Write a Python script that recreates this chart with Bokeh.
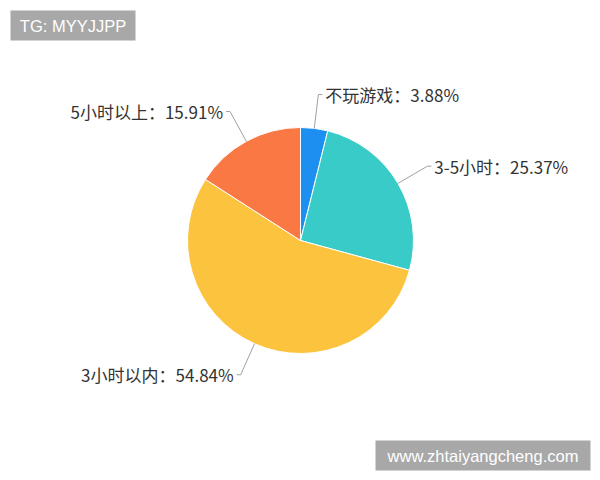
import math
from bokeh.plotting import figure
from bokeh.models import Range1d, ColumnDataSource
from bokeh.core.properties import value
from bokeh.embed import file_html
from bokeh.resources import INLINE

categories = ["不玩游戏", "3-5小时", "3小时以内", "5小时以上"]
percents = [3.88, 25.37, 54.84, 15.91]
colors = ["#1c8ff0", "#38cbc8", "#fcc33e", "#f97844"]

watermark_top = "TG: MYYJJPP"
watermark_bottom = "www.zhtaiyangcheng.com"

W, H = 592, 472
p = figure(width=W, height=H, output_backend="svg", toolbar_location=None,
           x_range=Range1d(0, W), y_range=Range1d(480 - H, 480),
           min_border=0, outline_line_color=None)
p.axis.visible = False
p.grid.visible = False
p.background_fill_color = "white"
p.border_fill_color = "white"

cx, cy, r = 300, 240, 113
total = sum(percents)
starts, ends, mids = [], [], []
cum = 0.0
for v in percents:
    a0 = math.pi / 2 - 2 * math.pi * cum / total
    cum += v
    a1 = math.pi / 2 - 2 * math.pi * cum / total
    starts.append(a0)
    ends.append(a1)
    mids.append((a0 + a1) / 2)

src = ColumnDataSource(dict(start=starts, end=ends, color=colors))
p.wedge(x=cx, y=cy, radius=r, start_angle="start", end_angle="end",
        direction="clock", fill_color="color", line_color="white",
        line_width=1, source=src)

# label lines and texts
ext = 34
hor = 4
gap = 3
lx, ly, ta, labels = [], [], [], []
for cat, v, m in zip(categories, percents, mids):
    ax, ay = cx + r * math.cos(m), cy + r * math.sin(m)
    ex, ey = cx + (r + ext) * math.cos(m), cy + (r + ext) * math.sin(m)
    side = 1 if math.cos(m) >= 0 else -1
    hx = ex + side * hor
    p.line([ax, ex, hx], [ay, ey, ey], line_color="#a0a0a0", line_width=1)
    lx.append(hx + side * gap)
    ly.append(ey)
    ta.append("left" if side > 0 else "right")
    labels.append(f"{cat}：{v:.2f}%")

tsrc = ColumnDataSource(dict(x=lx, y=ly, t=labels, a=ta))
p.text(x="x", y="y", text="t", text_align="a", text_baseline="middle",
       text_font=value("Noto Sans CJK SC"), text_font_size="17px",
       text_color="#333333", source=tsrc)

# watermarks (page coordinates: y = 480 - page_y)
p.quad(left=[10, 375], right=[135, 590], bottom=[480 - 40, 480 - 470],
       top=[480 - 10, 480 - 440], fill_color="#a8a8a8", line_color=None)
p.text(x=[72.5, 482.5], y=[480 - 25, 480 - 455],
       text=[watermark_top, watermark_bottom], text_align="center",
       text_baseline="middle", text_font=value("Liberation Sans"),
       text_font_size="16.5px", text_color="white")

open("out.html", "w").write(file_html(p, INLINE))
